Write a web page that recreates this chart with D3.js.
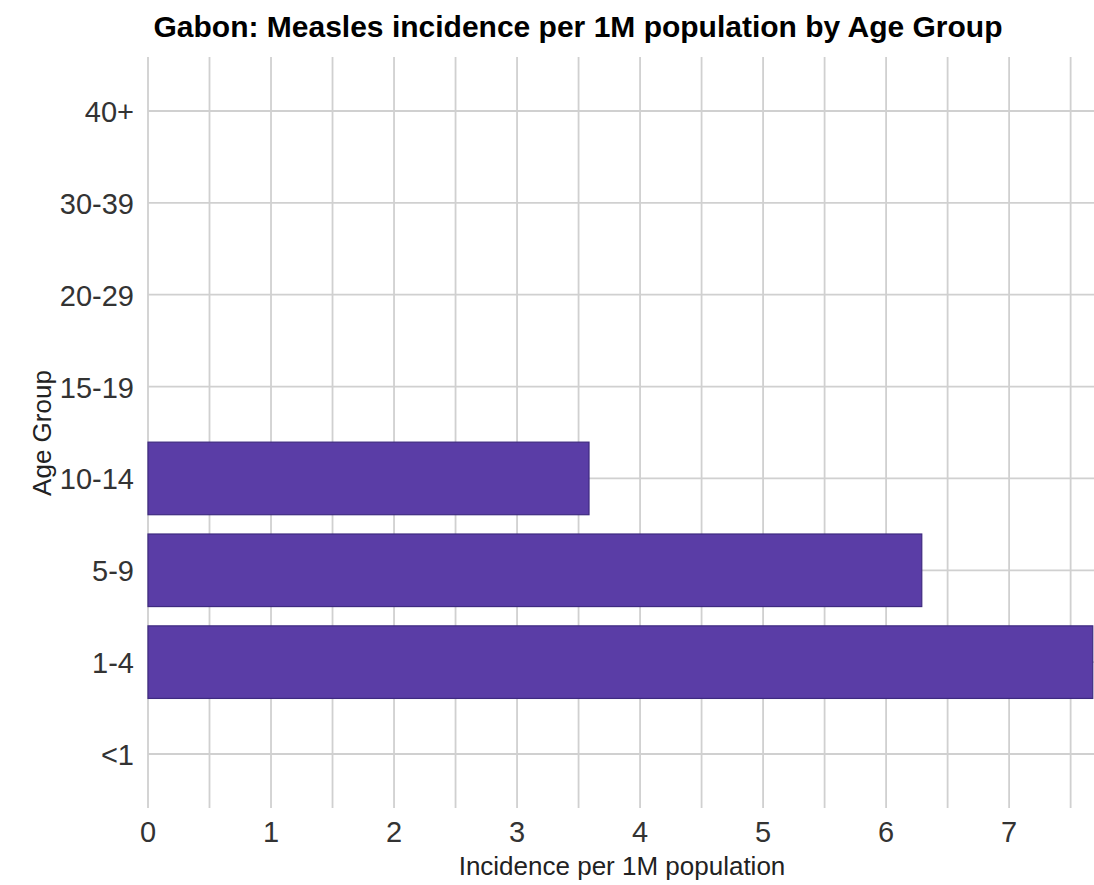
<!DOCTYPE html>
<html><head><meta charset="utf-8">
<script src="https://cdn.jsdelivr.net/npm/d3@7"></script>
<style>body{margin:0;background:#fff;} text{font-family:"Liberation Sans",Arial,sans-serif;}</style>
</head><body><svg id="c" width="1094" height="885"></svg>
<script>
const categories = ["<1","1-4","5-9","10-14","15-19","20-29","30-39","40+"];
const values = [0, 7.68, 6.29, 3.585, 0, 0, 0, 0];
const xTicks = [0,1,2,3,4,5,6,7];
const title = "Gabon: Measles incidence per 1M population by Age Group";
const xTitle = "Incidence per 1M population";
const yTitle = "Age Group";

const svg = d3.select("#c");
const pLeft = 148, pRight = 1094, pTop = 57, pBottom = 808;
const x = d3.scaleLinear().domain([0, 7.69]).range([pLeft, pRight]);
const y = d3.scalePoint().domain(categories).range([754, 111]);
const step = y.step();
const barH = step * 0.79;

// grid
const g = svg.append("g");
g.selectAll("line.v").data(d3.range(0, 7.69, 0.5)).join("line")
  .attr("x1", d => x(d)).attr("x2", d => x(d)).attr("y1", pTop).attr("y2", pBottom)
  .attr("stroke", "#d0d0d0").attr("stroke-width", 1.8);
g.selectAll("line.h").data(categories).join("line")
  .attr("x1", pLeft).attr("x2", pRight).attr("y1", d => y(d)).attr("y2", d => y(d))
  .attr("stroke", "#d0d0d0").attr("stroke-width", 1.8);

// bars
svg.append("g").selectAll("rect").data(categories.map((c,i)=>({c,v:values[i]})).filter(d=>d.v>0)).join("rect")
  .attr("x", x(0)).attr("y", d => y(d.c) - barH/2)
  .attr("width", d => x(d.v) - x(0)).attr("height", barH)
  .attr("fill", "#5a3da6").attr("stroke", "#3e2a80").attr("stroke-width", 1.2);

// axes labels
svg.append("g").selectAll("text").data(xTicks).join("text")
  .attr("x", d => x(d)).attr("y", 842).attr("text-anchor", "middle")
  .attr("font-size", 29).attr("fill", "#333").text(d => d);
svg.append("g").selectAll("text").data(categories).join("text")
  .attr("x", 134).attr("y", d => y(d) + 11).attr("text-anchor", "end")
  .attr("font-size", 29).attr("fill", "#333").text(d => d);

svg.append("text").attr("x", 622).attr("y", 875).attr("text-anchor", "middle")
  .attr("font-size", 26).attr("fill", "#222").text(xTitle);
svg.append("text").attr("transform", "translate(51,433) rotate(-90)").attr("text-anchor", "middle")
  .attr("font-size", 26).attr("fill", "#222").text(yTitle);
svg.append("text").attr("x", 578).attr("y", 37).attr("text-anchor", "middle")
  .attr("font-size", 30).attr("font-weight", "bold").attr("fill", "#000").text(title);
</script></body></html>
